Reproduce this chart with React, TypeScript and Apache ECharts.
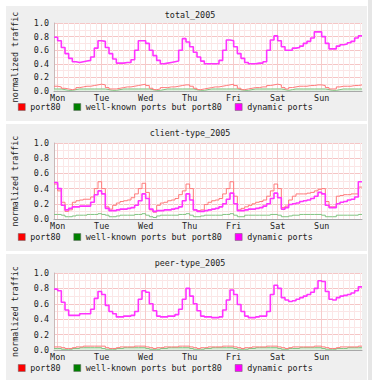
import React, { useEffect, useRef } from 'react';
import * as echarts from 'echarts';

const dayLabels = ['Mon', 'Tue', 'Wed', 'Thu', 'Fri', 'Sat', 'Sun'];
const seriesNames = ['port80', 'well-known ports but port80', 'dynamic ports'];
const panelTitles = ['total_2005', 'client-type_2005', 'peer-type_2005'];

// 2-hour samples over one week (84 values each)
const totalPort80 = [
  0.07, 0.06, 0.04, 0.03, 0.02, 0.03, 0.05, 0.06, 0.07, 0.07, 0.08, 0.09,
  0.10, 0.09, 0.05, 0.03, 0.03, 0.04, 0.05, 0.06, 0.06, 0.07, 0.08, 0.09,
  0.10, 0.08, 0.04, 0.02, 0.03, 0.05, 0.05, 0.06, 0.06, 0.07, 0.08, 0.09,
  0.09, 0.07, 0.04, 0.02, 0.03, 0.04, 0.05, 0.06, 0.06, 0.07, 0.08, 0.09,
  0.10, 0.08, 0.04, 0.02, 0.03, 0.04, 0.05, 0.05, 0.06, 0.06, 0.08, 0.09,
  0.10, 0.09, 0.05, 0.03, 0.05, 0.06, 0.07, 0.07, 0.07, 0.08, 0.08, 0.09,
  0.09, 0.08, 0.05, 0.03, 0.03, 0.06, 0.07, 0.07, 0.07, 0.08, 0.08, 0.09,
];
const totalWellKnown = [
  0.03, 0.03, 0.02, 0.01, 0.01, 0.02, 0.03, 0.03, 0.03, 0.03, 0.03, 0.03,
  0.03, 0.03, 0.02, 0.01, 0.01, 0.02, 0.03, 0.03, 0.03, 0.03, 0.03, 0.03,
  0.03, 0.03, 0.02, 0.01, 0.01, 0.02, 0.03, 0.03, 0.03, 0.03, 0.03, 0.03,
  0.03, 0.03, 0.02, 0.01, 0.01, 0.02, 0.03, 0.03, 0.03, 0.03, 0.03, 0.03,
  0.03, 0.03, 0.02, 0.01, 0.01, 0.02, 0.03, 0.03, 0.03, 0.03, 0.03, 0.03,
  0.03, 0.03, 0.02, 0.01, 0.02, 0.03, 0.03, 0.03, 0.03, 0.03, 0.03, 0.03,
  0.03, 0.03, 0.02, 0.01, 0.01, 0.02, 0.03, 0.03, 0.03, 0.03, 0.03, 0.03,
];
const totalDynamic = [
  0.79, 0.74, 0.64, 0.55, 0.48, 0.43, 0.42, 0.43, 0.44, 0.45, 0.50, 0.63,
  0.74, 0.73, 0.64, 0.55, 0.47, 0.41, 0.41, 0.42, 0.42, 0.46, 0.60, 0.74,
  0.74, 0.70, 0.60, 0.52, 0.45, 0.40, 0.41, 0.42, 0.43, 0.44, 0.60, 0.77,
  0.72, 0.65, 0.57, 0.50, 0.44, 0.40, 0.40, 0.40, 0.40, 0.45, 0.60, 0.75,
  0.74, 0.65, 0.55, 0.48, 0.42, 0.40, 0.40, 0.41, 0.41, 0.43, 0.60, 0.75,
  0.81, 0.74, 0.65, 0.60, 0.60, 0.63, 0.64, 0.66, 0.70, 0.73, 0.78, 0.87,
  0.87, 0.80, 0.70, 0.62, 0.62, 0.66, 0.68, 0.69, 0.71, 0.73, 0.78, 0.81,
];

const clientPort80 = [
  0.46, 0.37, 0.22, 0.10, 0.12, 0.22, 0.24, 0.25, 0.26, 0.26, 0.29, 0.40,
  0.49, 0.40, 0.16, 0.13, 0.18, 0.21, 0.23, 0.24, 0.25, 0.28, 0.33, 0.40,
  0.47, 0.35, 0.12, 0.09, 0.18, 0.21, 0.22, 0.24, 0.25, 0.27, 0.32, 0.37,
  0.46, 0.40, 0.12, 0.11, 0.12, 0.19, 0.22, 0.24, 0.25, 0.27, 0.33, 0.40,
  0.49, 0.30, 0.12, 0.14, 0.16, 0.18, 0.20, 0.22, 0.23, 0.25, 0.30, 0.37,
  0.46, 0.40, 0.15, 0.17, 0.25, 0.30, 0.33, 0.33, 0.33, 0.34, 0.35, 0.37,
  0.39, 0.40, 0.23, 0.16, 0.16, 0.30, 0.31, 0.32, 0.32, 0.33, 0.33, 0.42,
];
const clientWellKnown = [
  0.06, 0.06, 0.05, 0.03, 0.03, 0.04, 0.05, 0.05, 0.05, 0.06, 0.06, 0.06,
  0.07, 0.06, 0.05, 0.03, 0.03, 0.04, 0.05, 0.05, 0.05, 0.05, 0.06, 0.06,
  0.07, 0.05, 0.03, 0.02, 0.04, 0.05, 0.05, 0.05, 0.05, 0.05, 0.06, 0.06,
  0.07, 0.05, 0.03, 0.03, 0.04, 0.05, 0.05, 0.05, 0.05, 0.05, 0.06, 0.06,
  0.07, 0.05, 0.03, 0.03, 0.05, 0.05, 0.05, 0.05, 0.05, 0.05, 0.05, 0.06,
  0.06, 0.05, 0.03, 0.03, 0.04, 0.05, 0.05, 0.06, 0.06, 0.06, 0.06, 0.06,
  0.06, 0.05, 0.03, 0.03, 0.03, 0.05, 0.05, 0.05, 0.05, 0.05, 0.05, 0.06,
];
const clientDynamic = [
  0.48, 0.40, 0.18, 0.12, 0.14, 0.16, 0.16, 0.17, 0.17, 0.17, 0.22, 0.32,
  0.37, 0.33, 0.14, 0.11, 0.11, 0.12, 0.13, 0.13, 0.14, 0.15, 0.18, 0.24,
  0.33, 0.27, 0.13, 0.10, 0.11, 0.11, 0.12, 0.12, 0.13, 0.14, 0.16, 0.24,
  0.33, 0.25, 0.12, 0.10, 0.10, 0.11, 0.12, 0.13, 0.14, 0.16, 0.20, 0.26,
  0.34, 0.20, 0.11, 0.11, 0.12, 0.13, 0.13, 0.14, 0.15, 0.17, 0.20, 0.27,
  0.34, 0.28, 0.13, 0.15, 0.19, 0.20, 0.21, 0.23, 0.24, 0.25, 0.27, 0.30,
  0.35, 0.33, 0.18, 0.15, 0.15, 0.20, 0.22, 0.23, 0.25, 0.26, 0.29, 0.49,
];

const peerPort80 = [
  0.04, 0.04, 0.03, 0.02, 0.02, 0.03, 0.04, 0.04, 0.05, 0.05, 0.05, 0.05,
  0.05, 0.05, 0.03, 0.02, 0.02, 0.03, 0.04, 0.04, 0.04, 0.04, 0.05, 0.05,
  0.05, 0.04, 0.03, 0.02, 0.03, 0.03, 0.04, 0.04, 0.04, 0.04, 0.05, 0.05,
  0.05, 0.04, 0.03, 0.02, 0.03, 0.03, 0.04, 0.04, 0.04, 0.04, 0.05, 0.05,
  0.05, 0.04, 0.03, 0.02, 0.03, 0.03, 0.04, 0.04, 0.04, 0.04, 0.05, 0.05,
  0.05, 0.04, 0.03, 0.02, 0.03, 0.04, 0.04, 0.04, 0.04, 0.04, 0.04, 0.05,
  0.05, 0.04, 0.03, 0.02, 0.02, 0.03, 0.04, 0.04, 0.04, 0.04, 0.04, 0.05,
];
const peerWellKnown = [
  0.02, 0.02, 0.01, 0.01, 0.01, 0.02, 0.02, 0.03, 0.03, 0.03, 0.03, 0.03,
  0.03, 0.02, 0.01, 0.01, 0.01, 0.02, 0.02, 0.03, 0.03, 0.03, 0.03, 0.03,
  0.03, 0.02, 0.01, 0.01, 0.01, 0.02, 0.02, 0.03, 0.03, 0.03, 0.03, 0.03,
  0.03, 0.02, 0.01, 0.01, 0.01, 0.02, 0.02, 0.03, 0.03, 0.03, 0.03, 0.03,
  0.03, 0.02, 0.01, 0.01, 0.01, 0.02, 0.02, 0.03, 0.03, 0.03, 0.03, 0.03,
  0.03, 0.02, 0.01, 0.01, 0.02, 0.02, 0.02, 0.03, 0.03, 0.03, 0.03, 0.03,
  0.03, 0.02, 0.01, 0.01, 0.01, 0.02, 0.02, 0.02, 0.03, 0.03, 0.03, 0.03,
];
const peerDynamic = [
  0.79, 0.77, 0.62, 0.52, 0.45, 0.45, 0.45, 0.47, 0.47, 0.47, 0.53, 0.67,
  0.76, 0.72, 0.58, 0.50, 0.47, 0.43, 0.43, 0.44, 0.44, 0.45, 0.50, 0.66,
  0.77, 0.75, 0.60, 0.51, 0.44, 0.43, 0.43, 0.44, 0.44, 0.46, 0.53, 0.66,
  0.80, 0.70, 0.60, 0.51, 0.44, 0.43, 0.43, 0.42, 0.42, 0.43, 0.52, 0.65,
  0.78, 0.72, 0.59, 0.50, 0.44, 0.42, 0.42, 0.43, 0.44, 0.44, 0.50, 0.72,
  0.84, 0.80, 0.68, 0.65, 0.63, 0.64, 0.66, 0.68, 0.70, 0.72, 0.75, 0.80,
  0.90, 0.89, 0.76, 0.66, 0.65, 0.68, 0.70, 0.71, 0.72, 0.74, 0.77, 0.82,
];

const panelData = [
  [totalPort80, totalWellKnown, totalDynamic],
  [clientPort80, clientWellKnown, clientDynamic],
  [peerPort80, peerWellKnown, peerDynamic],
];

const legendColors = ['#ff0000', '#008000', '#ff00ff'];
const lineColors = ['#ff7a7a', '#82c482', '#ff33ff'];
const FONT = 'DejaVu Sans Mono';
const FS = 8.4;

const toSteps = (arr: number[]) =>
  arr.map((v, i) => [i * 2, v]).concat([[168, arr[arr.length - 1]]]);

const layouts = [
  { bgTop: 6, bgH: 115, titleY: 15, plotTop: 23, plotH: 68, legendY: 108, fill: true },
  { bgTop: 124, bgH: 127, titleY: 133, plotTop: 143, plotH: 76, legendY: 238, fill: false },
  { bgTop: 254, bgH: 126, titleY: 263, plotTop: 273, plotH: 77, legendY: 369, fill: true },
];

const vColors: string[] = [];
for (let h = 0; h < 24; h++) {
  if (h === 2) vColors.push('#f6cccc');
  else if ((h + 22) % 3 === 0) vColors.push('#fbe8e8');
  else vColors.push('rgba(0,0,0,0)');
}

export default function App() {
  const ref = useRef<HTMLDivElement>(null);
  useEffect(() => {
    if (!ref.current) return;
    const chart = echarts.init(ref.current, undefined, { renderer: 'svg' });
    const grids: any[] = [];
    const xAxes: any[] = [];
    const yAxes: any[] = [];
    const legends: any[] = [];
    const series: any[] = [];
    const graphics: any[] = [
      { type: 'rect', z: -10, shape: { x: 368, y: 0, width: 4, height: 380 }, style: { fill: '#e6e6e6' } },
    ];
    layouts.forEach((L, k) => {
      graphics.push({
        type: 'rect', z: -10,
        shape: { x: 6, y: L.bgTop, width: 361, height: L.bgH },
        style: { fill: '#efefef' },
      });
      graphics.push({
        type: 'text', z: 10, x: 190, y: L.titleY,
        style: { text: panelTitles[k], fill: '#222', fontFamily: FONT, fontSize: FS, align: 'center', verticalAlign: 'middle' },
      });
      grids.push({
        left: 54, width: 308, top: L.plotTop, height: L.plotH,
        show: true, backgroundColor: '#ffffff', borderWidth: 0,
      });
      xAxes.push({
        type: 'value', gridIndex: k, min: 0, max: 168, interval: 1,
        axisLine: { show: true, lineStyle: { color: '#a8a8a8', width: 1 } },
        axisTick: { show: false },
        axisLabel: {
          margin: 3, fontFamily: FONT, fontSize: FS, color: '#222',
          formatter: (v: number) => ((v - 2) % 24 === 0 && v >= 2 ? dayLabels[(v - 2) / 24] : ''),
        },
        splitLine: { show: true, lineStyle: { color: vColors, width: 1 } },
      });
      yAxes.push({
        type: 'value', gridIndex: k, min: 0, max: 1, interval: 0.1,
        name: 'normalized traffic', nameLocation: 'middle', nameGap: 35, nameRotate: 90,
        nameTextStyle: { fontFamily: FONT, fontSize: FS, color: '#222' },
        axisLine: { show: true, lineStyle: { color: '#c8b8b8', width: 1 } },
        axisTick: { show: false },
        axisLabel: {
          margin: 5, fontFamily: FONT, fontSize: FS, color: '#222',
          formatter: (v: number) => (Math.round(v * 10) % 2 === 0 ? v.toFixed(1) : ''),
        },
        splitLine: { show: true, lineStyle: { color: ['#f5c6c6', '#fbe6e6'], width: 1 } },
      });
      legends.push({
        left: 18, top: L.legendY - 5, itemWidth: 7, itemHeight: 7, itemGap: 13,
        icon: 'rect', selectedMode: false, padding: 0,
        textStyle: { fontFamily: FONT, fontSize: FS, color: '#222' },
        data: seriesNames.map((n, j) => ({
          name: n,
          itemStyle: { color: legendColors[j], borderColor: '#666', borderWidth: 0.5 },
        })),
      });
      panelData[k].forEach((arr, j) => {
        series.push({
          type: 'line', name: seriesNames[j], xAxisIndex: k, yAxisIndex: k,
          step: 'end', showSymbol: false, symbol: 'none',
          data: toSteps(arr),
          itemStyle: { color: legendColors[j] },
          lineStyle: { color: lineColors[j], width: j === 2 ? 1.6 : 1 },
          areaStyle: j === 1 && L.fill ? { color: '#d6ecd6', opacity: 0.8 } : undefined,
          z: j === 2 ? 4 : 3 - j,
        });
      });
    });
    chart.setOption({
      animation: false,
      backgroundColor: '#ffffff',
      textStyle: { fontFamily: FONT },
      graphic: { elements: graphics },
      grid: grids,
      xAxis: xAxes,
      yAxis: yAxes,
      legend: legends,
      series,
    });
    return () => chart.dispose();
  }, []);
  return (
    <div
      ref={ref}
      style={{ position: 'absolute', left: 0, top: 0, width: 372, height: 380 }}
    />
  );
}
